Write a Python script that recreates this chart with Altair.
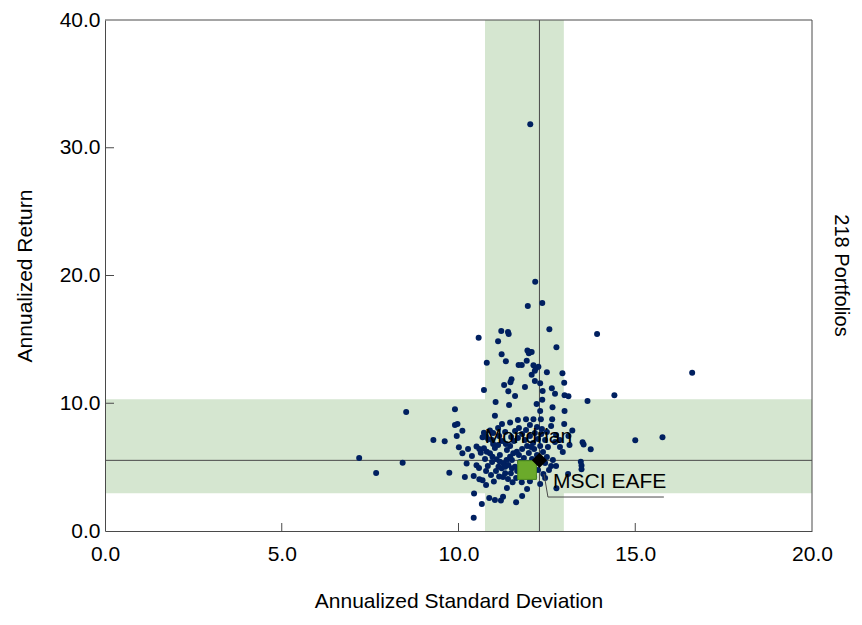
import altair as alt
import pandas as pd

# ---------------- data ----------------
port_sd = [
    12.03, 12.17, 12.37, 11.96, 12.57, 11.21, 11.40, 11.42, 13.92, 10.57,
    11.12, 12.77, 11.95, 12.02, 12.07, 11.99, 11.22, 11.34, 10.80, 11.93,
    11.70, 11.79, 12.12, 12.19, 12.26, 12.16, 12.50, 12.94, 16.61, 12.07,
    11.50, 11.47, 12.16, 12.31, 12.99, 11.29, 11.88, 10.72, 12.64, 11.41,
    12.38, 12.73, 13.00, 13.11, 14.41, 11.60, 12.37, 13.65, 11.05, 12.21,
    11.43, 12.66, 8.52, 9.90, 12.31, 13.00, 11.03, 11.91, 12.12, 12.33,
    12.65, 11.46, 12.99, 9.90, 9.97, 10.11, 12.36, 13.22, 9.95, 10.72,
    10.78, 13.11, 15.77, 15.00, 9.29, 9.61, 13.51, 13.54, 13.14, 13.74,
    10.01, 10.11, 10.51, 10.59, 10.63, 12.95, 10.96, 7.19, 8.42, 10.23,
    10.51, 10.58, 13.46, 13.48, 13.48, 7.67, 9.74, 12.40, 13.10, 10.43,
    10.59, 10.68, 11.00, 11.15, 11.32, 11.53, 11.79, 12.02, 12.77, 10.44,
    10.87, 11.03, 11.20, 11.26, 11.80, 11.63, 10.66, 10.43,
    10.68, 10.84, 10.89, 10.72, 10.80, 10.89, 10.98, 11.08, 11.17, 11.27,
    11.36, 11.46, 11.55, 11.65, 11.13, 11.22, 11.32, 11.41, 11.51, 11.60,
    11.48, 11.03, 11.12, 11.23, 11.34, 11.46, 11.57, 11.68, 11.80, 11.91,
    12.02, 12.16, 12.25, 12.11, 11.94, 11.80, 11.71, 11.85, 11.99, 12.14,
    12.31, 12.39, 12.22, 12.08, 11.97, 11.74, 11.66, 11.77, 11.88, 12.14,
    12.25, 12.45, 12.50, 12.45, 12.34, 12.53, 12.67, 12.62, 12.73, 12.87,
    10.95, 10.83, 10.75, 10.78, 10.92, 11.06, 11.26, 11.40, 11.63, 11.15,
    11.32, 11.49, 11.60, 11.71, 10.98, 11.12, 11.23, 11.68, 12.02, 12.22,
    12.50, 12.62, 12.76, 12.87, 10.27, 10.38, 10.18, 10.78, 11.37, 11.94,
    12.31, 12.45, 12.56, 12.76, 10.95, 11.37, 11.51, 11.17, 11.88, 12.05,
]
port_ret = [
    31.84, 19.51, 17.85, 17.61, 15.79, 15.66, 15.58, 15.42, 15.42, 15.13,
    14.85, 14.38, 14.12, 14.01, 14.01, 13.91, 13.83, 13.28, 13.17, 13.33,
    12.99, 12.99, 12.97, 12.74, 12.86, 12.55, 12.42, 12.34, 12.39, 12.23,
    11.87, 11.64, 11.74, 11.56, 11.61, 11.43, 11.27, 11.04, 11.17, 10.94,
    10.96, 10.75, 10.62, 10.54, 10.62, 10.57, 10.28, 10.18, 10.10, 9.94,
    9.86, 9.68, 9.32, 9.53, 9.39, 9.39, 9.03, 8.74, 8.74, 8.74,
    8.74, 8.49, 8.38, 8.30, 8.38, 7.85, 7.98, 7.87, 7.44, 7.69,
    7.38, 7.44, 7.33, 7.10, 7.12, 7.02, 6.94, 6.77, 6.73, 6.40,
    6.55, 6.08, 6.61, 6.42, 6.13, 6.18, 5.82, 5.71, 5.35, 5.28,
    5.14, 4.93, 5.42, 5.13, 4.83, 4.54, 4.56, 4.46, 4.46, 4.31,
    4.05, 3.97, 3.87, 4.27, 4.52, 3.81, 3.81, 3.89, 3.34, 2.94,
    2.58, 2.43, 2.39, 2.69, 2.74, 2.25, 2.11, 1.04,
    7.33, 7.18, 7.87, 6.47, 6.21, 6.08, 6.81, 5.61, 5.42, 5.30,
    5.56, 5.82, 6.08, 6.21, 5.03, 4.91, 5.03, 5.17, 4.91, 5.03,
    4.52, 6.50, 6.73, 7.05, 6.81, 6.65, 7.05, 7.28, 7.59, 7.91,
    7.44, 7.67, 7.20, 6.89, 6.65, 6.42, 5.95, 5.71, 6.11, 6.42,
    6.65, 6.18, 5.95, 5.64, 5.32, 5.40, 4.70, 4.31, 4.62, 4.23,
    4.77, 5.32, 5.79, 7.12, 7.59, 6.58, 5.56, 5.09, 6.97, 6.58,
    5.40, 5.09, 5.64, 4.70, 4.38, 4.70, 4.23, 4.07, 4.15, 7.44,
    7.75, 7.36, 7.83, 8.06, 7.67, 8.06, 8.38, 8.69, 8.30, 8.14,
    7.75, 8.22, 7.51, 7.12, 6.42, 5.87, 4.23, 3.60, 3.37, 3.29,
    3.68, 4.15, 4.77, 5.09, 7.12, 6.34, 5.56, 5.95, 7.12, 6.58,
]

manager_name = "Mondrian"
manager_sd = 12.29
manager_ret = 5.53

index_name = "MSCI EAFE"
index_sd = 11.94
index_ret = 4.77

band_sd = [10.75, 12.98]
band_ret = [2.95, 10.31]

leader_sd = [12.42, 12.53, 15.81]
leader_ret = [4.46, 2.66, 2.66]

x_ticks = [0, 5, 10, 15, 20]
y_ticks = [0, 10, 20, 30, 40]
x_minor = [5, 10, 15]
y_minor = [10, 20, 30]

count_label = "218 Portfolios"
x_title = "Annualized Standard Deviation"
y_title = "Annualized Return"

# ---------------- style ----------------
W, H = 707, 511
FONT = "Liberation Sans"
NAVY = "#002060"
BAND = "#D5E6D0"
LINE = "#4a4a4a"
GREEN = "#6BAA2B"

XS = alt.Scale(domain=[0, 20], nice=False, zero=False)
YS = alt.Scale(domain=[0, 40], nice=False, zero=False)

XAX = alt.Axis(
    title=x_title, values=x_ticks, format=".1f", ticks=False, grid=False,
    domainColor=LINE, labelFontSize=21, labelPadding=12, labelFlush=False,
    labelOverlap=False, titleFontSize=21, titleFontWeight="normal",
    titleY=76, titleBaseline="alphabetic", zindex=1,
)
YAX = alt.Axis(
    title=y_title, values=y_ticks, format=".1f", ticks=False, grid=False,
    domainColor=LINE, labelFontSize=21, labelPadding=5, labelFlush=False,
    labelOverlap=False, titleFontSize=21, titleFontWeight="normal",
    titleX=-80, titleY=H / 2, titleAngle=-90, titleBaseline="middle",
    titleAlign="center", zindex=1,
)


def X(f):
    return alt.X(f, scale=XS, axis=XAX)


def Y(f):
    return alt.Y(f, scale=YS, axis=YAX)


n = min(len(port_sd), len(port_ret))
dots_df = pd.DataFrame({"sd": port_sd[:n], "ret": port_ret[:n]})

vband = alt.Chart(pd.DataFrame({"a": [band_sd[0]], "b": [band_sd[1]]})).mark_rect(
    color=BAND, opacity=1
).encode(x=X("a:Q"), x2="b:Q", y=alt.value(0), y2=alt.value(H))

hband = alt.Chart(pd.DataFrame({"a": [band_ret[0]], "b": [band_ret[1]]})).mark_rect(
    color=BAND, opacity=1
).encode(y=Y("a:Q"), y2="b:Q", x=alt.value(0), x2=alt.value(W))

mgr_df = pd.DataFrame({"sd": [manager_sd], "ret": [manager_ret], "name": [manager_name]})
idx_df = pd.DataFrame({"sd": [index_sd], "ret": [index_ret], "name": [index_name]})

vline = alt.Chart(mgr_df).mark_rule(color=LINE, strokeWidth=1).encode(x=X("sd:Q"))
hline = alt.Chart(mgr_df).mark_rule(color=LINE, strokeWidth=1).encode(y=Y("ret:Q"))

dots = alt.Chart(dots_df).mark_circle(size=36, color=NAVY, opacity=1).encode(
    x=X("sd:Q"), y=Y("ret:Q")
)

leader_df = pd.DataFrame({"sd": leader_sd, "ret": leader_ret, "i": list(range(len(leader_sd)))})
leader = alt.Chart(leader_df).mark_line(color=LINE, strokeWidth=1).encode(
    x=X("sd:Q"), y=Y("ret:Q"), order="i:O"
)

idx_pt = alt.Chart(idx_df).mark_point(
    shape="square", filled=True, size=350, fill=GREEN, stroke="#4C8A1E",
    strokeWidth=1, opacity=1
).encode(x=X("sd:Q"), y=Y("ret:Q"))

mgr_pt = alt.Chart(mgr_df).mark_point(
    shape="diamond", filled=True, size=230, color="black", opacity=1
).encode(x=X("sd:Q"), y=Y("ret:Q"))

mgr_lab = alt.Chart(mgr_df).mark_text(
    font=FONT, fontSize=21, align="center", baseline="alphabetic", dx=-11, dy=-17, color="black"
).encode(x=X("sd:Q"), y=Y("ret:Q"), text="name:N")

idx_lab = alt.Chart(idx_df).mark_text(
    font=FONT, fontSize=21, align="left", baseline="alphabetic", dx=26, dy=18, color="black"
).encode(x=X("sd:Q"), y=Y("ret:Q"), text="name:N")

ytk = alt.Chart(pd.DataFrame({"v": y_minor})).mark_rule(color=LINE, strokeWidth=1).encode(
    y=Y("v:Q"), x=alt.value(0), x2=alt.value(9)
)
xtk = alt.Chart(pd.DataFrame({"v": x_minor})).mark_rule(color=LINE, strokeWidth=1).encode(
    x=X("v:Q"), y=alt.value(H), y2=alt.value(H - 8)
)

frame_top = alt.Chart(pd.DataFrame({"k": [0]})).mark_rule(color=LINE, strokeWidth=1).encode(
    x=alt.value(0), x2=alt.value(W), y=alt.value(0)
)
frame_right = alt.Chart(pd.DataFrame({"k": [0]})).mark_rule(color=LINE, strokeWidth=1).encode(
    x=alt.value(W), y=alt.value(0), y2=alt.value(H)
)

count_txt = alt.Chart(pd.DataFrame({"t": [count_label]})).mark_text(
    font=FONT, fontSize=20, angle=90, align="center", baseline="middle", color="black"
).encode(x=alt.value(736), y=alt.value(H / 2), text="t:N")

chart = alt.layer(
    vband, hband, vline, hline, dots, leader, idx_pt, mgr_pt, mgr_lab, idx_lab,
    ytk, xtk, frame_top, frame_right, count_txt
).properties(
    width=W, height=H,
    padding={"left": 97, "top": 12, "right": 42, "bottom": 82},
    autosize=alt.AutoSizeParams(type="none"),
).configure(font=FONT).configure_view(stroke=None).configure_axis(
    labelColor="black", titleColor="black", labelFont=FONT, titleFont=FONT
)

chart.save("out.html", embed_options={"renderer": "svg", "actions": False})
